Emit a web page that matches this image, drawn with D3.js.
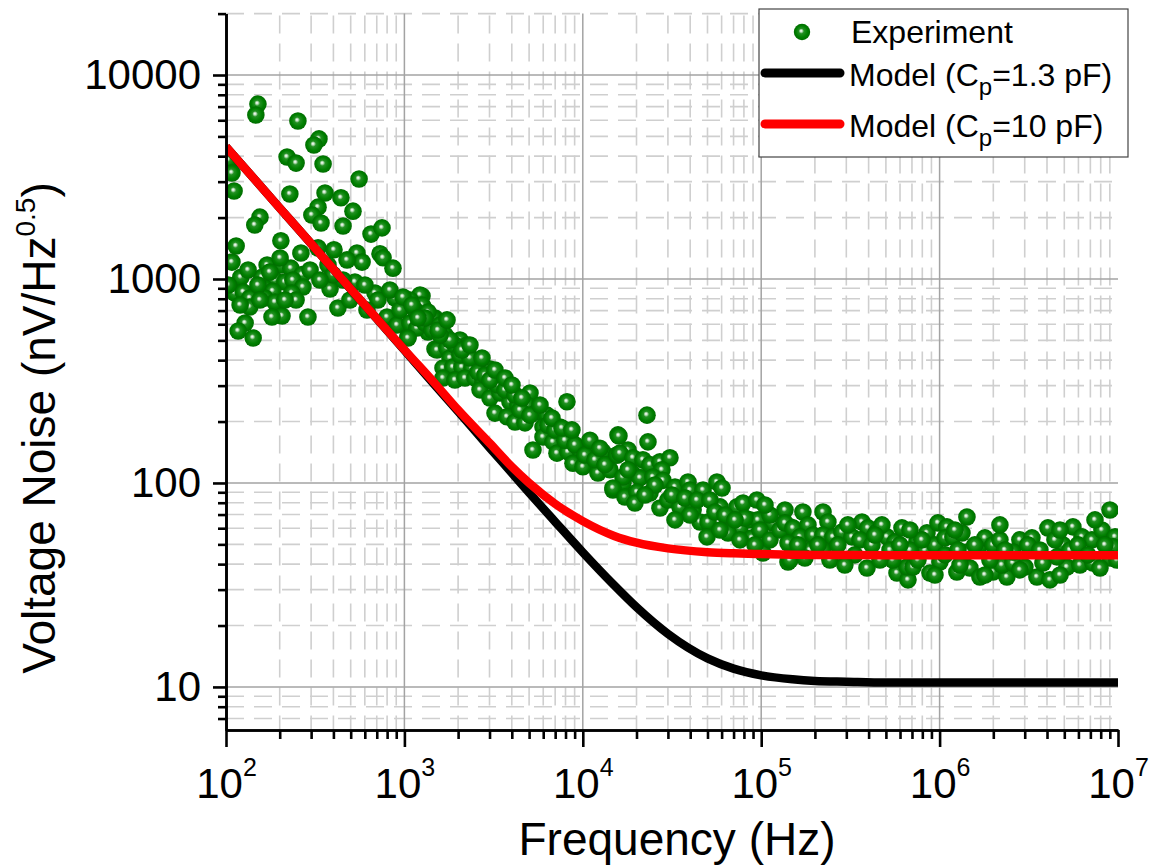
<!DOCTYPE html>
<html>
<head>
<meta charset="utf-8">
<script src="https://cdn.jsdelivr.net/npm/d3@7"></script>
<style>
  html, body { margin: 0; background: #fff; }
  svg { display: block; font-family: Arial, "Liberation Sans", sans-serif; }
</style>
</head>
<body>
<svg id="chart" width="1156" height="867"></svg>
<script>
const EXP_FREQ = [
  151, 147, 253, 332, 311, 220, 247, 350, 105, 103, 108, 557, 111, 228, 359, 441, 328, 303, 515, 341,
  453, 155, 145, 650, 749, 203, 114, 108, 263, 328, 403, 542, 579, 730, 759, 863, 477, 373, 170, 206,
  231, 267, 121, 159, 188, 214, 237, 270, 165, 183, 112, 125, 136, 383, 528, 453, 398, 165, 188, 234,
  424, 288, 206, 181, 128, 117, 142, 136, 684, 711, 886, 1047, 1255, 1271, 617, 799, 909, 1146, 1355, 1484,
  1047, 1484,
  133, 151, 176, 201, 247, 296, 336, 120, 103, 495, 601, 830, 945, 155, 214,
  1223, 1075, 982, 1255, 1445, 1075, 1176, 1303, 1428, 1047, 2050, 2243, 1523, 1733, 1801, 1646, 1871, 2102, 2392, 3018,
  1646, 1921, 2186, 2487, 2757, 3137, 2653, 3018, 3435, 3906, 5058, 8152, 4333, 4867, 5536, 3219, 3758, 4169, 4743, 6298,
  5981, 7447, 8474, 5981, 6806, 5256, 7165, 8260, 9640, 10970, 12970, 15750, 15550, 8810, 10020, 12160, 14190, 14760, 16790,
  1146, 1355, 1583, 1689, 1921, 2050, 2331, 2585, 2829, 3346, 3662, 4169, 4445, 5058, 6380, 6982, 7943, 9036, 10280, 11700,
  13320, 3018, 2102, 1801, 1583, 1303, 1103,
  1192, 1543, 1733, 2331, 2722, 3219, 3662, 4009, 4560, 5755, 6714, 7638, 8690, 10970, 12470, 15550, 17920, 20910,
  22900, 15950, 23190, 16150, 19100, 21730, 23790, 27070, 30800, 27780, 18870, 20910, 24720, 28130, 16790, 14760, 17220, 20130, 19600, 23790,
  32870, 38880, 39900, 47200, 56500, 60300, 27070, 30010, 35060, 41500, 45420, 50350, 49700, 58750, 73100, 79000, 94600, 68550, 76000, 86500,
  95900, 88700, 102300, 116400, 135900, 144900, 141300, 65200,
  17920, 25380, 22310, 31610, 37390, 43650, 51620, 55060, 62640, 39900, 32870, 81100, 98400, 112000, 127400, 58750, 76000, 92300, 112000, 105000,
  71300,
  171300, 222000, 236600, 135900, 150700, 182800, 164900, 195000, 222000, 141300, 144900, 252500, 283700, 322700, 367300, 396400, 445600, 357800, 506900, 562300,
  615200, 391800, 576900, 664900, 656300, 746500, 849200, 978900, 1099000, 1423000, 827800, 941900, 1072000, 1188000, 1334000, 1004000, 1250000, 1479000, 1683000, 1795000,
  1991000, 1683000, 1991000, 2384000, 2235000, 2576000, 2818000, 3294000, 4048000, 3513000, 4155000, 3006000, 3795000, 4914000, 5589000, 6282000, 7145000, 8130000, 9015000, 9620000,
  9375000, 5173000, 6117000, 7240000, 9015000, 7925000, 4547000, 2576000, 1423000, 682300, 527200, 222000, 187600, 709600, 883000,
  160700, 208000, 269000, 306000, 335000, 417500, 475000, 547000, 599000, 756000, 796000, 1072000, 1267000, 1577000, 1915000, 2178000, 2323000, 3126000, 3650000, 4433000,
  5382000, 5960000, 6780000, 8450000, 9860000, 2818000, 1301000, 463000, 175800, 242700, 294400, 4732000, 1795000, 941900, 434500, 682300, 1219000, 2178000, 4732000, 7430000
];
const EXP_NOISE = [
  7200, 6370, 5950, 4860, 4540, 3960, 3700, 3660, 3420, 3830, 3310, 3090, 2700, 2610, 2640, 2500, 2250, 2060, 2150, 1880,
  1820, 2010, 1840, 1660, 1780, 1540, 1450, 1210, 1340, 1420, 1390, 1340, 1210, 1330, 1270, 1130, 1240, 1170, 1170, 1170,
  1130, 1050, 1020, 1020, 989, 967, 989, 914, 903, 873, 854, 864, 807, 893, 967, 989, 1050, 807, 771, 854,
  721, 651, 659, 651, 608, 556, 514, 729, 854, 789, 807, 789, 825, 729, 705, 651, 595, 582, 550, 644,
  520, 454,
  1107, 934, 1082, 1268, 789, 1107, 989, 746, 934, 789, 934, 883, 705, 789, 789,
  835, 789, 816, 746, 644, 608, 575, 608, 562, 514, 502, 475, 449, 459, 410, 366, 370, 370, 366, 362,
  327, 320, 327, 327, 313, 313, 286, 261, 276, 250, 276, 250, 241, 241, 223, 220, 211, 199, 197, 215,
  188, 188, 172, 168, 159, 145, 140, 142, 145, 142, 142, 172, 137, 125, 120, 112, 116, 92.4, 100,
  705, 689, 595, 531, 475, 424, 410, 350, 338, 302, 286, 270, 228, 215, 192, 182, 162, 154, 137, 130,
  123, 320, 449, 502, 531, 644, 746,
  644, 562, 630, 475, 410, 358, 327, 302, 261, 241, 208, 186, 182, 162, 148, 137, 145, 118,
  215, 170, 159, 140, 133, 130, 123, 127, 133, 116, 112, 106, 107, 103, 107, 94.5, 85.4, 90.3, 79.8, 89.3,
  95.6, 101, 92.4, 92.4, 101, 94.5, 75.4, 82.5, 76.3, 73.7, 64.4, 64.4, 54.4, 76.3, 76.3, 79.8, 82.5, 60.2, 60.2, 65.9,
  65.9, 53.8, 45.4, 63.7, 73.7, 60.9, 41.0, 56.9,
  116, 97.8, 87.3, 87.3, 84.4, 82.5, 82.5, 72.1, 69.7, 69.7, 65.9, 67.3, 58.8, 52.6, 58.8, 58.8, 52.6, 49.7, 69.7, 78.0,
  65.9,
  72.1, 72.1, 64.4, 63.7, 60.2, 62.3, 54.4, 55.6, 55.6, 50.8, 41.9, 54.4, 57.5, 54.4, 64.4, 60.2, 57.5, 52.6, 54.4, 51.4,
  60.2, 38.3, 36.2, 33.5, 38.7, 51.4, 56.9, 63.7, 60.9, 68.1, 46.9, 49.7, 53.8, 54.4, 56.9, 41.0, 36.6, 38.3, 49.7, 53.8,
  49.7, 34.6, 36.6, 34.6, 39.6, 40.5, 52.6, 53.8, 60.2, 34.6, 33.5, 38.7, 40.5, 49.7, 60.9, 54.4, 52.6, 58.8, 73.7, 54.4,
  48.6, 38.7, 39.6, 40.5, 42.9, 38.3, 43.4, 45.9, 45.9, 46.9, 46.9, 46.9, 46.9, 38.7, 36.2,
  49.7, 49.7, 49.7, 62.3, 44.4, 49.7, 62.3, 41.9, 49.7, 41.9, 52.6, 44.4, 46.9, 49.7, 41.9, 52.6, 46.9, 49.7, 46.9, 52.6,
  46.9, 49.7, 44.4, 49.7, 41.9, 37.5, 39.6, 41.9, 42.9, 41.9, 39.6, 35.4, 35.4, 35.4, 55.6, 58.8, 58.8, 62.3, 58.8, 65.9
];

// model curves
const MODEL_FREQ = [100, 150, 200, 300, 500, 700, 1000, 1500, 2000, 3000, 4000, 5000, 7000, 10000, 15000, 20000,
  30000, 50000, 70000, 100000, 150000, 200000, 300000, 500000, 1000000, 10000000];
const MODEL_1P3 = [4450, 2970, 2230, 1490, 892, 638, 447, 298, 224, 149, 112, 89.6, 64.5, 45.7, 31.5, 24.6,
  18.2, 13.8, 12.3, 11.4, 10.9, 10.7, 10.6, 10.5, 10.5, 10.5];
const MODEL_10 = [4450, 2970, 2230, 1490, 893, 640, 450, 304, 228, 157, 120, 100, 79, 65, 55, 51,
  47.8, 45.8, 45.2, 44.8, 44.5, 44.4, 44.3, 44.2, 44.2, 44.2];

const Y_MAJOR = [10, 100, 1000, 10000];
const X_MAJOR = [1e2, 1e3, 1e4, 1e5, 1e6, 1e7];
const X_EXPONENTS = ["2", "3", "4", "5", "6", "7"];

const PLOT = { left: 226, right: 1118, top: 13.6, bottom: 730 };

const svg = d3.select("#chart");
const x = d3.scaleLog().domain([1e2, 1e7]).range([PLOT.left, PLOT.right]);
const y = d3.scaleLog().domain([6.15, 20000]).range([PLOT.bottom, PLOT.top]);

const isMajor = (v) => Math.abs(Math.log10(v) - Math.round(Math.log10(v))) < 1e-9;
const xTicks = x.ticks();
const yTicks = y.ticks();

const defs = svg.append("defs");
const ball = defs.append("radialGradient").attr("id", "ball")
  .attr("cx", "50%").attr("cy", "50%").attr("r", "50%").attr("fx", "44%").attr("fy", "42%");
[[0, "#ffffff"], [0.13, "#c8e4c8"], [0.32, "#239023"], [0.7, "#008000"], [1, "#006c00"]]
  .forEach(([o, c]) => ball.append("stop").attr("offset", o).attr("stop-color", c));
defs.append("clipPath").attr("id", "plot-clip").append("rect")
  .attr("x", PLOT.left).attr("y", PLOT.top)
  .attr("width", PLOT.right - PLOT.left).attr("height", PLOT.bottom - PLOT.top);

// grid
const grid = svg.append("g").attr("class", "grid");
grid.selectAll("line.vminor").data(xTicks.filter((v) => !isMajor(v))).join("line")
  .attr("class", "vminor")
  .attr("x1", (d) => x(d)).attr("x2", (d) => x(d)).attr("y1", PLOT.top + 2).attr("y2", PLOT.bottom)
  .attr("stroke", "#cfcfcf").attr("stroke-width", 1.6).attr("stroke-dasharray", "18,10");
grid.selectAll("line.hminor").data(yTicks.filter((v) => !isMajor(v))).join("line")
  .attr("class", "hminor")
  .attr("x1", PLOT.left).attr("x2", PLOT.right).attr("y1", (d) => y(d)).attr("y2", (d) => y(d))
  .attr("stroke", "#cfcfcf").attr("stroke-width", 1.6).attr("stroke-dasharray", "18,10");
grid.selectAll("line.vmajor").data(X_MAJOR.slice(1, -1)).join("line")
  .attr("class", "vmajor")
  .attr("x1", (d) => x(d)).attr("x2", (d) => x(d)).attr("y1", PLOT.top).attr("y2", PLOT.bottom)
  .attr("stroke", "#a3a3a3").attr("stroke-width", 1.5);
grid.selectAll("line.hmajor").data(Y_MAJOR).join("line")
  .attr("class", "hmajor")
  .attr("x1", PLOT.left).attr("x2", PLOT.right).attr("y1", (d) => y(d)).attr("y2", (d) => y(d))
  .attr("stroke", "#a3a3a3").attr("stroke-width", 1.5);

// experiment points
const points = EXP_FREQ.map((f, i) => [f, EXP_NOISE[i]]);
svg.append("g").attr("clip-path", "url(#plot-clip)")
  .selectAll("circle").data(points).join("circle")
  .attr("cx", (d) => x(d[0])).attr("cy", (d) => y(d[1])).attr("r", 8.8)
  .attr("fill", "url(#ball)");

// model curves
const line = d3.line().x((d) => x(d[0])).y((d) => y(d[1])).curve(d3.curveMonotoneX);
const curves = svg.append("g").attr("clip-path", "url(#plot-clip)");
curves.append("path").datum(MODEL_FREQ.map((f, i) => [f, MODEL_1P3[i]]))
  .attr("d", line).attr("fill", "none").attr("stroke", "#000").attr("stroke-width", 8.5);
curves.append("path").datum(MODEL_FREQ.map((f, i) => [f, MODEL_10[i]]))
  .attr("d", line).attr("fill", "none").attr("stroke", "#ff0000").attr("stroke-width", 8.5);

// axes
const axisStyle = (g) => {
  g.select(".domain").attr("stroke", "#000").attr("stroke-width", 2.6);
  g.selectAll(".tick line").attr("stroke", "#000").attr("stroke-width", 2.6);
};
svg.append("g").attr("transform", `translate(${PLOT.left},0)`)
  .call(d3.axisLeft(y).tickValues(yTicks.filter((v) => !isMajor(v))).tickSize(8).tickSizeOuter(0).tickFormat(""))
  .call(axisStyle);
svg.append("g").attr("transform", `translate(${PLOT.left},0)`)
  .call(d3.axisLeft(y).tickValues(Y_MAJOR).tickSize(13).tickSizeOuter(0).tickPadding(12).tickFormat(d3.format("d")))
  .call(axisStyle)
  .call((g) => g.selectAll(".tick text").attr("font-size", 42).attr("fill", "#000")
    .attr("font-family", "Arial, 'Liberation Sans', sans-serif"));

svg.append("g").attr("transform", `translate(0,${PLOT.bottom})`)
  .call(d3.axisBottom(x).tickValues(xTicks.filter((v) => !isMajor(v))).tickSize(9).tickSizeOuter(0).tickFormat(""))
  .call(axisStyle);
const xMajor = svg.append("g").attr("transform", `translate(0,${PLOT.bottom})`)
  .call(d3.axisBottom(x).tickValues(X_MAJOR).tickSize(17).tickSizeOuter(0).tickFormat(""))
  .call(axisStyle);
xMajor.selectAll(".tick").append("text")
  .attr("y", 68).attr("text-anchor", "middle").attr("font-size", 42).attr("fill", "#000")
  .attr("font-family", "Arial, 'Liberation Sans', sans-serif")
  .text("10")
  .append("tspan").attr("dy", -22).attr("font-size", 25).text((d, i) => X_EXPONENTS[i]);

// axis titles
svg.append("text").attr("x", 677).attr("y", 855).attr("text-anchor", "middle")
  .attr("font-size", 46).text("Frequency (Hz)");
const yTitle = svg.append("text").attr("transform", "translate(55,428) rotate(-90)")
  .attr("text-anchor", "middle").attr("font-size", 46);
yTitle.append("tspan").text("Voltage Noise (nV/Hz");
yTitle.append("tspan").attr("dy", -20).attr("font-size", 28).text("0.5");
yTitle.append("tspan").attr("dy", 20).text(")");

// legend
const legend = svg.append("g");
legend.append("rect").attr("x", 759).attr("y", 9).attr("width", 369).attr("height", 148)
  .attr("fill", "#fff").attr("stroke", "#444").attr("stroke-width", 1.2);
legend.append("circle").attr("cx", 802).attr("cy", 32).attr("r", 8.2).attr("fill", "url(#ball)");
legend.append("text").attr("x", 851).attr("y", 43).attr("font-size", 32).text("Experiment");

const LEGEND_MODELS = [
  { color: "#000", y: 73, value: "=1.3 pF)" },
  { color: "#ff0000", y: 124, value: "=10 pF)" },
];
LEGEND_MODELS.forEach((m) => {
  legend.append("line").attr("x1", 765).attr("x2", 840).attr("y1", m.y).attr("y2", m.y)
    .attr("stroke", m.color).attr("stroke-width", 9).attr("stroke-linecap", "round");
  const t = legend.append("text").attr("x", 849).attr("y", m.y + 13).attr("font-size", 32);
  t.append("tspan").text("Model (C");
  t.append("tspan").attr("dy", 9).attr("font-size", 24).text("p");
  t.append("tspan").attr("dy", -9).text(m.value);
});
</script>
</body>
</html>
